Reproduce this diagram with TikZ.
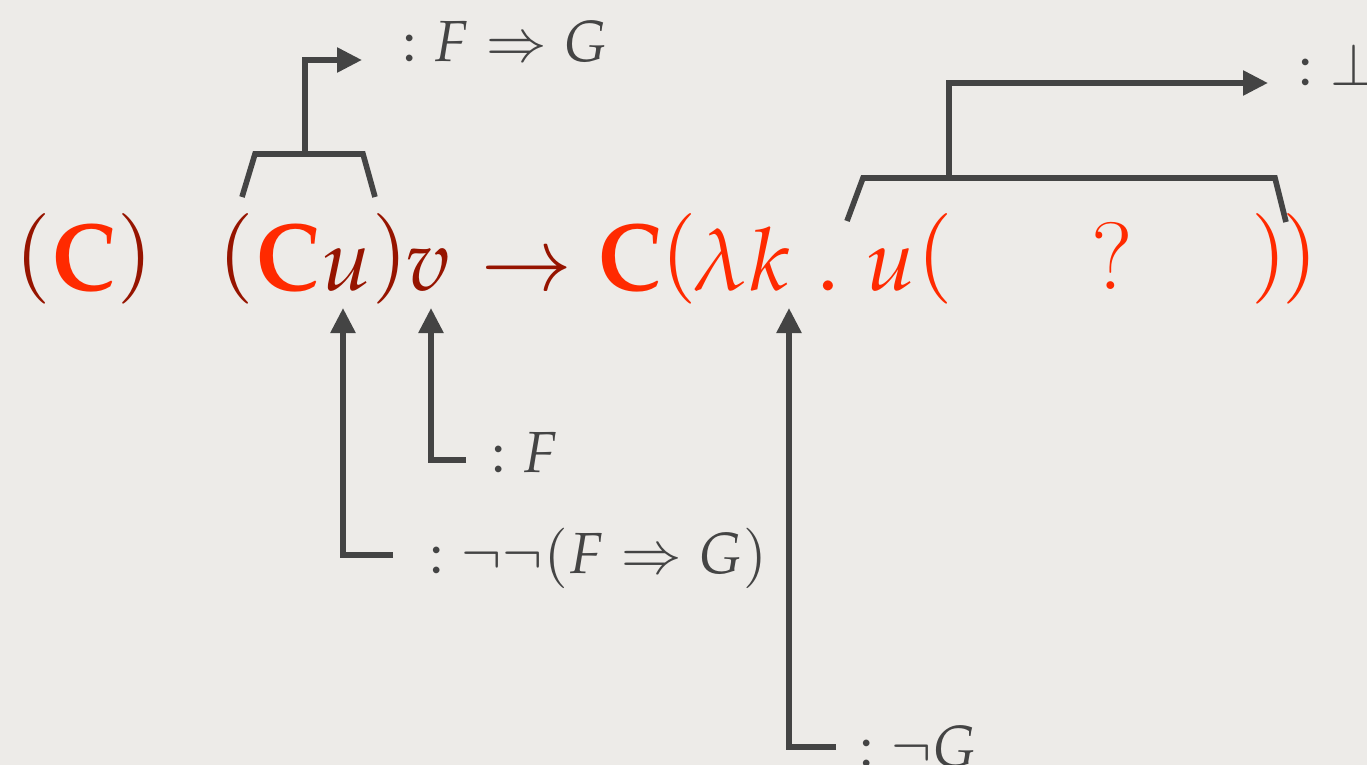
\documentclass[tikz,border=0pt]{standalone}
\usepackage{mathpazo}
\usetikzlibrary{arrows.meta}
\definecolor{bg}{HTML}{EDEBE8}
\definecolor{bred}{HTML}{FF2A00}
\definecolor{dred}{HTML}{961400}
\definecolor{ink}{HTML}{444444}
\newcommand{\bigC}{\scalebox{1}[1.1]{$\mathbf{C}$}}
\begin{document}
\begin{tikzpicture}[x=0.5pt,y=-0.5pt,
  main/.style={inner sep=0,anchor=base,font=\fontsize{43.5}{50}\selectfont},
  lab/.style={inner sep=0,anchor=base west,text=ink,font=\fontsize{29}{35}\selectfont},
  conn/.style={draw=ink,line width=2.8pt},
  arr/.style={conn,-{Triangle[length=12.5pt,width=12pt]}}]
\fill[bg] (0,0) rectangle (1367,765);
\useasboundingbox (0,0) rectangle (1367,765);
% main formula
\node[main,text=dred] (lp1) at (33,281) {$($};
\node[main,text=bred] (C1) at (84,291) {\bigC};
\node[main,text=dred] (rp1) at (135,281) {$)$};
\node[main,text=dred] (lp2) at (236,281) {$($};
\node[main,text=bred] (C2) at (288,291) {\bigC};
\node[main,text=dred] (u2) at (347,291) {$u$};
\node[main,text=dred] (rp2) at (390,281) {$)$};
\node[main,text=dred] (v) at (428,291) {$v$};
\node[main,text=dred] (to) at (527,291) {$\rightarrow$};
\node[main,text=bred] (C3) at (630,291) {\bigC};
\node[main,text=bred] (lp3) at (679,281) {$($};
\node[main,text=bred] (lam) at (720,291) {$\lambda$};
\node[main,text=bred] (k) at (770,291) {$k$};
\node[main,text=bred] (dot) at (828,291) {$.$};
\node[main,text=bred] (u3) at (891,291) {$u$};
\node[main,text=bred] (lp4) at (935,281) {$($};
\node[main,text=bred] (q) at (1112,290) {\scalebox{1.1}{?}};
\node[main,text=bred] (rp3) at (1269,281) {$)$};
\node[main,text=bred] (rp4) at (1300,281) {$)$};
% labels
\node[lab] (lFG) at (401,62) {${:}\;F\Rightarrow G$};
\node[lab] (lbot) at (1297,86) {${:}\;\bot$};
\node[lab] (lF) at (490,472) {${:}\;F$};
\node[lab] (lNN) at (428,573) {${:}\;\neg\neg(F\Rightarrow G)$};
\node[lab] (lNG) at (858,766) {${:}\;\neg G$};
% bracket over (Cu)
\coordinate (a1) at (242,197);
\coordinate (a2) at (255,154);
\coordinate (a3) at (363,154);
\coordinate (a4) at (375,197);
\coordinate (as) at (305,154);
\coordinate (at) at (362,60);
\draw[conn] (a1) -- (a2) -- (a3) -- (a4);
\draw[arr] (as) |- (at);
% bracket over u( ? )
\coordinate (b1) at (847,221);
\coordinate (b2) at (863,178);
\coordinate (b3) at (1275,178);
\coordinate (b4) at (1286,222);
\coordinate (bs) at (949,178);
\coordinate (bt) at (1268,83);
\draw[conn] (b1) -- (b2) -- (b3) -- (b4);
\draw[arr] (bs) |- (bt);
% arrows from below
\coordinate (ue) at (393,555);
\coordinate (ut) at (343,308);
\draw[arr] (ue) -| (ut);
\coordinate (ve) at (466,460);
\coordinate (vt) at (431,308);
\draw[arr] (ve) -| (vt);
\coordinate (ke) at (836,747);
\coordinate (kt) at (789,308);
\draw[arr] (ke) -| (kt);
\end{tikzpicture}
\end{document}
